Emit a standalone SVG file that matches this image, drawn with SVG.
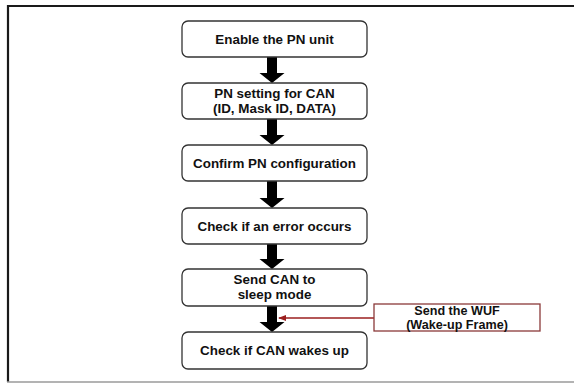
<svg xmlns="http://www.w3.org/2000/svg" width="574" height="383" viewBox="0 0 574 383">
<style>
.box{fill:#fff;stroke:#333;stroke-width:1.3}
.t{font-family:"Liberation Sans",Arial,sans-serif;font-weight:bold;font-size:13.4px;fill:#111;text-anchor:middle}
.w{font-family:"Liberation Sans",Arial,sans-serif;font-weight:bold;font-size:12.6px;fill:#111;text-anchor:middle}
.arr{fill:#000}
</style>
<defs>
<marker id="rh" markerWidth="8" markerHeight="6" refX="7" refY="3" orient="auto" markerUnits="userSpaceOnUse">
<path d="M0,0 L8,3 L0,6 Z" fill="#9b1f1f"/>
</marker>
</defs>
<rect x="0" y="0" width="574" height="383" fill="#fff"/>
<g id="frame">
<line x1="7" y1="6" x2="574" y2="6" stroke="#1a1a1a" stroke-width="2"/>
<line x1="8" y1="5" x2="8" y2="382" stroke="#1a1a1a" stroke-width="2.2"/>
<line x1="7" y1="382" x2="574" y2="382" stroke="#9a9a9a" stroke-width="1.5"/>
</g>
<g id="connectors">
<path class="arr" d="M267,57 H277 V73 H284.5 L272,83 L259.5,73 H267 Z"/>
<path class="arr" d="M267,119 H277 V135 H284.5 L272,145 L259.5,135 H267 Z"/>
<path class="arr" d="M267,181 H277 V198 H284.5 L272,208 L259.5,198 H267 Z"/>
<path class="arr" d="M267,244 H277 V259 H284.5 L272,269 L259.5,259 H267 Z"/>
<path class="arr" d="M267,306 H277 V322 H284.5 L272,332 L259.5,322 H267 Z"/>
<line x1="374" y1="318" x2="279" y2="318" stroke="#9b1f1f" stroke-width="1.3" marker-end="url(#rh)"/>
</g>
<g id="n1">
<rect class="box" x="182" y="21" width="185" height="36" rx="6"/>
<text class="t" x="274.5" y="43.5">Enable the PN unit</text>
</g>
<g id="n2">
<rect class="box" x="182" y="83" width="185" height="36" rx="6"/>
<text class="t" x="274.5" y="97.5">PN setting for CAN</text>
<text class="t" x="274.5" y="112.5">(ID, Mask ID, DATA)</text>
</g>
<g id="n3">
<rect class="box" x="182" y="145" width="185" height="36" rx="6"/>
<text class="t" x="274.5" y="167.5">Confirm PN configuration</text>
</g>
<g id="n4">
<rect class="box" x="182" y="208" width="185" height="36" rx="6"/>
<text class="t" x="274.5" y="230.5">Check if an error occurs</text>
</g>
<g id="n5">
<rect class="box" x="182" y="269" width="185" height="37" rx="6"/>
<text class="t" x="274.5" y="284">Send CAN to</text>
<text class="t" x="274.5" y="299">sleep mode</text>
</g>
<g id="n6">
<rect class="box" x="182" y="332" width="185" height="37" rx="6"/>
<text class="t" x="274.5" y="355">Check if CAN wakes up</text>
</g>
<g id="n7">
<rect x="374" y="304" width="166" height="27" fill="#fff" stroke="#8b3a3a" stroke-width="1.3"/>
<text class="w" x="457" y="315">Send the WUF</text>
<text class="w" x="457" y="328.5">(Wake-up Frame)</text>
</g>
</svg>
